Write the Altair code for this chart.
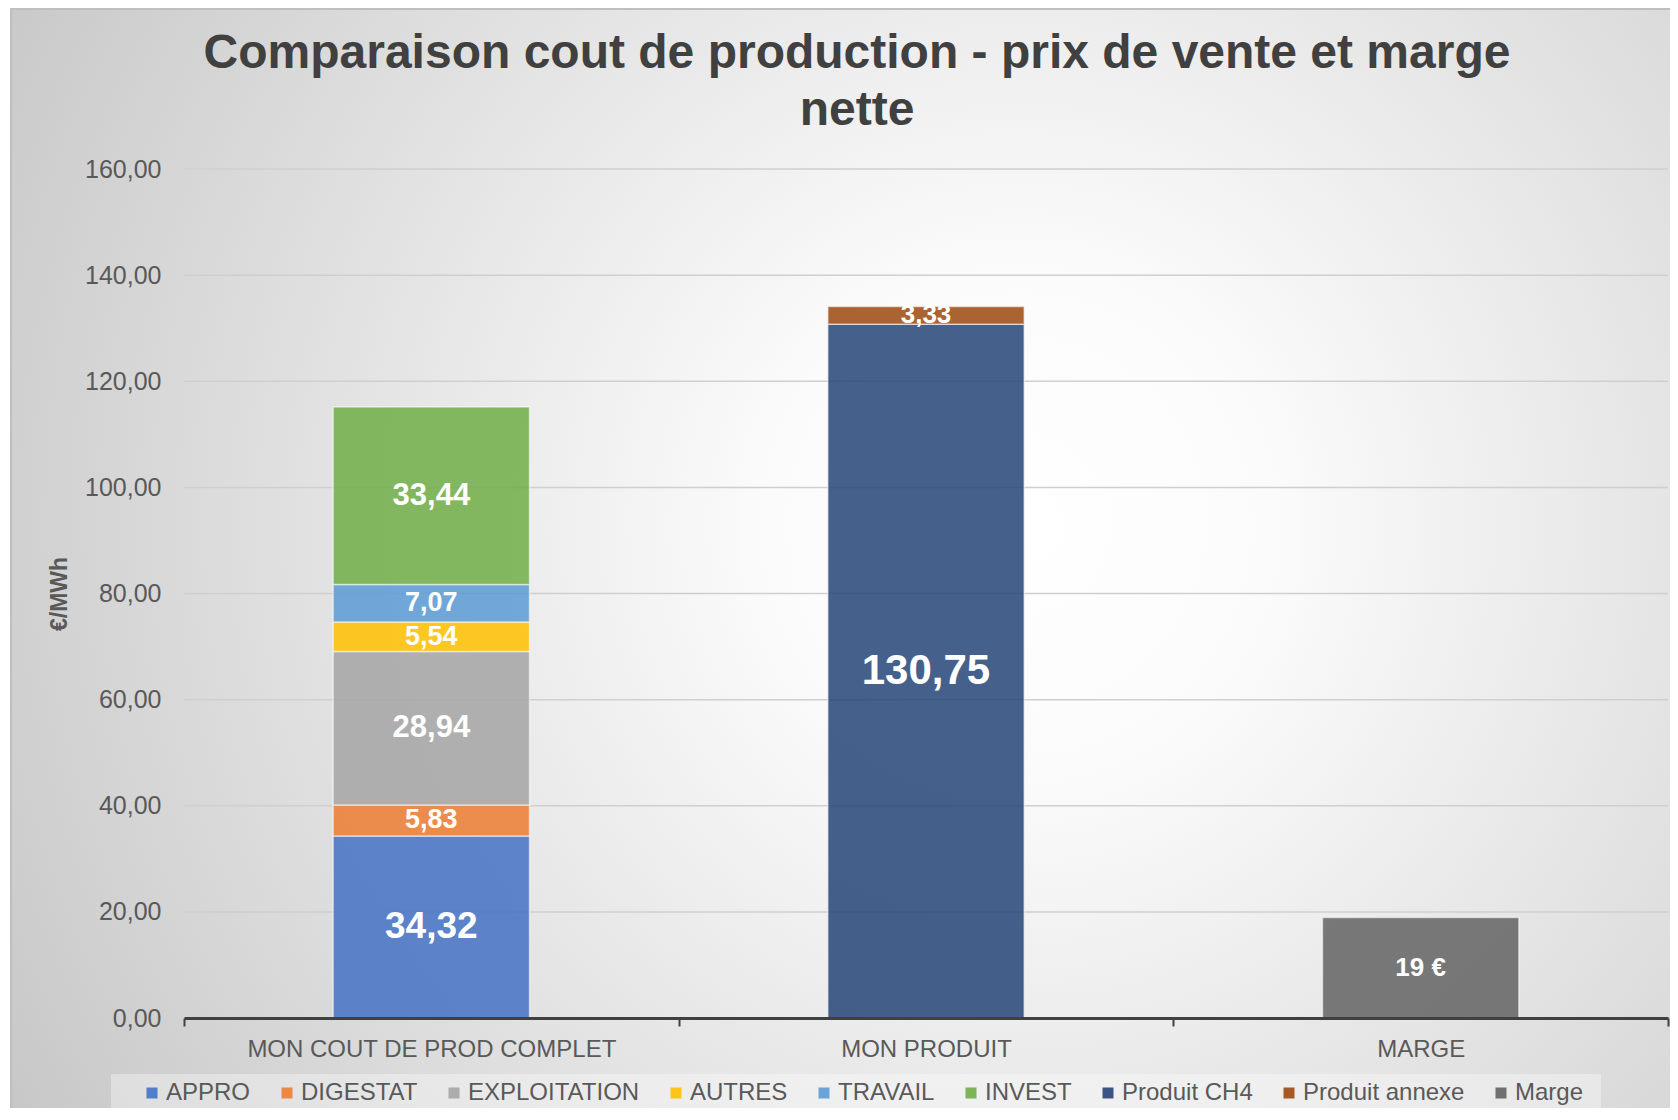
import altair as alt
import pandas as pd

# ---------------- data ----------------
categories = ["MON COUT DE PROD COMPLET", "MON PRODUIT", "MARGE"]
series = ["APPRO", "DIGESTAT", "EXPLOITATION", "AUTRES", "TRAVAIL", "INVEST",
          "Produit CH4", "Produit annexe", "Marge"]
series_category = ["MON COUT DE PROD COMPLET"] * 6 + ["MON PRODUIT"] * 2 + ["MARGE"]
values = [34.32, 5.83, 28.94, 5.54, 7.07, 33.44, 130.75, 3.33, 18.94]
y_ticks = [0, 20, 40, 60, 80, 100, 120, 140, 160]

# ---------------- styles ----------------
colors = ["#4472C4", "#ED7D31", "#A5A5A5", "#FFC000", "#5B9BD5", "#70AD47",
          "#264478", "#9E480E", "#636363"]
label_font_size = {"APPRO": 37, "DIGESTAT": 27, "EXPLOITATION": 31, "AUTRES": 27,
                   "TRAVAIL": 27, "INVEST": 31, "Produit CH4": 42,
                   "Produit annexe": 26, "Marge": 26}
FONT = "Liberation Sans"


def fmt(s, v):
    if s == "Marge":
        return f"{round(v)} €"
    return f"{v:.2f}".replace(".", ",")


df = pd.DataFrame({
    "category": series_category,
    "series": series,
    "value": values,
    "order": list(range(len(series))),
})
df["label"] = [fmt(s, v) for s, v in zip(series, values)]
df["fsize"] = [label_font_size[s] for s in series]

grid_df = pd.DataFrame({"v": y_ticks})

W, H = 1484, 849

base = alt.Chart(df).transform_stack(
    stack="value", as_=["y0", "y1"], groupby=["category"],
    sort=[alt.SortField("order", order="ascending")],
).transform_calculate(mid="(datum.y0 + datum.y1) / 2")

x_scale = alt.Scale(domain=categories, paddingInner=0, paddingOuter=0)

x_enc = alt.X(
    "category:N",
    scale=x_scale,
    sort=categories,
    axis=alt.Axis(
        title=None, labelAngle=0, labelFontSize=24, labelColor="#595959",
        labelFont=FONT, labelPadding=11, labelLimit=800,
        domainColor="#404040", domainWidth=3,
        tickColor="#404040", tickWidth=2, tickSize=8, tickBand="extent",
        grid=False, zindex=2,
    ),
)

y_scale = alt.Scale(domain=[0, 160], nice=False)

gridlines = alt.Chart(grid_df).mark_rule(color="#cfcfcf", strokeWidth=1.5).encode(
    y=alt.Y(
        "v:Q", scale=y_scale,
        axis=alt.Axis(
            values=y_ticks, title="€/MWh", titleFontSize=23, titleFont=FONT,
            titleFontWeight="bold", titleColor="#595959", titleAngle=270,
            titleX=-125, titleY=H / 2, titleAlign="center", titleBaseline="middle",
            labelFontSize=25, labelColor="#595959", labelFont=FONT, labelPadding=23,
            labelExpr="replace(format(datum.value, '.2f'), '.', ',')",
            domain=False, ticks=False, grid=False, zindex=2,
        ),
    ),
)

bars = base.mark_bar(
    width=alt.RelativeBandSize(0.397),
    fillOpacity=0.85, stroke="white", strokeOpacity=0.55, strokeWidth=1.5,
).encode(
    x=x_enc,
    y=alt.Y("y0:Q", scale=y_scale),
    y2="y1:Q",
    color=alt.Color(
        "series:N",
        scale=alt.Scale(domain=series, range=colors),
        legend=alt.Legend(
            title=None, orient="none", direction="horizontal", columns=9,
            legendX=-44, legendY=912, padding=0,
            symbolType="square", symbolSize=121, symbolStrokeWidth=0,
            symbolOpacity=0.9, labelFontSize=24, labelColor="#595959",
            labelFont=FONT, labelOffset=2, columnPadding=24, labelLimit=400,
        ),
    ),
    order=alt.Order("order:Q"),
)

labels = base.mark_text(
    color="white", fontWeight="bold", font=FONT, align="center", baseline="middle"
).encode(
    x=alt.X("category:N", sort=categories, scale=x_scale),
    y=alt.Y("mid:Q", scale=y_scale),
    text="label:N",
    size=alt.Size("fsize:Q", scale=None, legend=None),
)

decor = alt.Data(values=[{"k": 1}])

background = alt.Chart(decor).mark_rect(
    fill={
        "gradient": "radial",
        "x1": 0.6, "y1": 0.47, "r1": 0,
        "x2": 0.6, "y2": 0.47, "r2": 0.75,
        "stops": [
            {"offset": 0, "color": "#ffffff"},
            {"offset": 0.2, "color": "#fbfbfb"},
            {"offset": 1, "color": "#c2c2c2"},
        ],
    },
    stroke="#bfbfbf", strokeWidth=2,
).encode(
    x=alt.value(-173), x2=alt.value(1510),
    y=alt.value(-160), y2=alt.value(970),
)

legend_bg = alt.Chart(decor).mark_rect(fill="white", fillOpacity=0.35).encode(
    x=alt.value(-73), x2=alt.value(1417),
    y=alt.value(905), y2=alt.value(970),
)

chart = alt.layer(background, legend_bg, gridlines, bars, labels).properties(
    width=W, height=H,
    padding={"left": 176, "top": 161, "right": 2, "bottom": 90},
    autosize=alt.AutoSizeParams(type="none"),
    background="white",
    title=alt.TitleParams(
        text=["Comparaison cout de production - prix de vente et marge", "nette"],
        fontSize=48, font=FONT, fontWeight="bold", color="#404040",
        anchor="middle", dx=-69, lineHeight=57, offset=-127,
    ),
).configure_view(stroke=None)

chart.save("out.html", embed_options={"renderer": "svg", "actions": False})
